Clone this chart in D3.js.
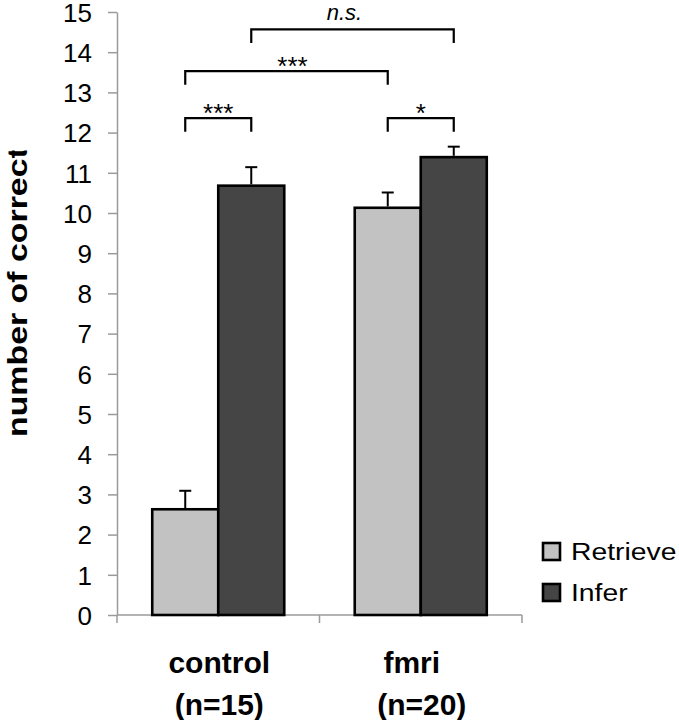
<!DOCTYPE html>
<html>
<head>
<meta charset="utf-8">
<script src="https://cdn.jsdelivr.net/npm/d3@7"></script>
<style>
  html, body { margin: 0; padding: 0; background: #fff; }
  svg { display: block; font-family: "Liberation Sans", Arial, sans-serif; }
</style>
</head>
<body>
<svg id="chart" width="679" height="720"></svg>
<script>
// ---- data ----
const categories = ["control", "fmri"];
const categorySizes = ["(n=15)", "(n=20)"];
const seriesNames = ["Retrieve", "Infer"];
const retrieveValues = [2.63, 10.13];
const inferValues = [10.68, 11.39];
const retrieveErrors = [0.46, 0.38];
const inferErrors = [0.46, 0.26];
const yTicks = [0,1,2,3,4,5,6,7,8,9,10,11,12,13,14,15];
const yLabel = "number of correct";
// significance comparisons: [category, series] pairs, label, bracket level (data units)
const comparisons = [
  { a: ["control", "Retrieve"], b: ["control", "Infer"], label: "***", level: 12.36, italic: false },
  { a: ["control", "Retrieve"], b: ["fmri", "Retrieve"], label: "***", level: 13.53, italic: false },
  { a: ["control", "Infer"],    b: ["fmri", "Infer"],    label: "n.s.", level: 14.57, italic: true },
  { a: ["fmri", "Retrieve"],    b: ["fmri", "Infer"],    label: "*",   level: 12.36, italic: false }
];

const colors = { Retrieve: "#c2c2c2", Infer: "#454545" };
const rows = categories.map((c, i) => ({
  category: c,
  values: [
    { series: "Retrieve", value: retrieveValues[i], err: retrieveErrors[i] },
    { series: "Infer", value: inferValues[i], err: inferErrors[i] }
  ]
}));

const svg = d3.select("#chart");
const axisColor = "#9a9a9a";

const y = d3.scaleLinear().domain([0, 15]).range([615, 12]);
const x0 = d3.scaleBand().domain(categories).range([117, 522]).paddingInner(0.348).paddingOuter(0.174);
const x1 = d3.scaleBand().domain(seriesNames).range([0, x0.bandwidth()]).padding(0);

// Y axis
const yAxis = svg.append("g").attr("transform", "translate(117,0)")
  .call(d3.axisLeft(y).tickValues(yTicks).tickSize(9).tickPadding(16).tickSizeOuter(0));
yAxis.select(".domain").attr("stroke", axisColor).attr("stroke-width", 1.5);
yAxis.selectAll(".tick line").attr("stroke", axisColor).attr("stroke-width", 1.5);
yAxis.selectAll(".tick text").attr("fill", "#000").style("font-size", "26px")
  .style("font-family", "'Liberation Sans', Arial, sans-serif").attr("dy", "0.36em");

// X axis line and category-boundary ticks
const xr = x0.range();
svg.append("line").attr("x1", xr[0]).attr("x2", xr[1]).attr("y1", y(0)).attr("y2", y(0))
  .attr("stroke", axisColor).attr("stroke-width", 1.5);
const boundaries = [xr[0]].concat(categories.map(c => x0(c) - x0.step() * x0.paddingInner() / 2 + x0.step()));
svg.selectAll(".xtick").data(boundaries).enter().append("line")
  .attr("x1", d => d).attr("x2", d => d).attr("y1", y(0)).attr("y2", y(0) + 8)
  .attr("stroke", axisColor).attr("stroke-width", 1.5);

// Bars
const groups = svg.selectAll(".grp").data(rows).enter().append("g")
  .attr("transform", d => `translate(${x0(d.category)},0)`);
groups.selectAll("rect").data(d => d.values).enter().append("rect")
  .attr("x", d => x1(d.series))
  .attr("y", d => y(d.value))
  .attr("width", x1.bandwidth())
  .attr("height", d => y(0) - y(d.value))
  .attr("fill", d => colors[d.series])
  .attr("stroke", "#000").attr("stroke-width", 2.6);

// Error bars (upward only)
const eb = groups.selectAll(".eb").data(d => d.values).enter().append("g");
eb.append("line")
  .attr("x1", d => x1(d.series) + x1.bandwidth() / 2)
  .attr("x2", d => x1(d.series) + x1.bandwidth() / 2)
  .attr("y1", d => y(d.value) - 1.3)
  .attr("y2", d => y(d.value + d.err))
  .attr("stroke", "#000").attr("stroke-width", 2);
eb.append("line")
  .attr("x1", d => x1(d.series) + x1.bandwidth() / 2 - 6)
  .attr("x2", d => x1(d.series) + x1.bandwidth() / 2 + 6)
  .attr("y1", d => y(d.value + d.err))
  .attr("y2", d => y(d.value + d.err))
  .attr("stroke", "#000").attr("stroke-width", 2);

// Significance brackets
const cx = (pair) => x0(pair[0]) + x1(pair[1]) + x1.bandwidth() / 2;
const legDrop = 0.34;
const br = svg.selectAll(".br").data(comparisons).enter().append("g");
br.append("path")
  .attr("d", d => {
    const xa = cx(d.a), xb = cx(d.b), yl = y(d.level), yd = y(d.level - legDrop);
    return `M${xa},${yd}V${yl}H${xb}V${yd}`;
  })
  .attr("fill", "none").attr("stroke", "#000").attr("stroke-width", 2.2);
br.append("text")
  .attr("x", (d, i) => (cx(d.a) + cx(d.b)) / 2 + (i === 1 ? 6 : (i === 2 ? -8 : 0)))
  .attr("y", d => d.italic ? y(d.level) - 9 : y(d.level) + 4)
  .attr("text-anchor", "middle")
  .style("font-size", d => d.italic ? "22px" : "26px")
  .style("font-style", d => d.italic ? "italic" : "normal")
  .attr("fill", "#000")
  .text(d => d.label);

// Category labels
const cat = svg.selectAll(".cat").data(categories).enter().append("g");
cat.append("text")
  .attr("x", (d, i) => x0(d) + x0.bandwidth() / 2 + (i === 1 ? -9 : 1))
  .attr("y", 673)
  .attr("text-anchor", "middle")
  .style("font-size", "30px").style("font-weight", "bold")
  .text(d => d);
cat.append("text")
  .attr("x", (d) => x0(d) + x0.bandwidth() / 2 + 1)
  .attr("y", 715)
  .attr("text-anchor", "middle")
  .style("font-size", "30px").style("font-weight", "bold")
  .text((d, i) => categorySizes[i]);

// Y label (clipped at top as in the reference)
svg.append("clipPath").attr("id", "ylabclip")
  .append("rect").attr("x", 0).attr("y", 150.5).attr("width", 60).attr("height", 320);
svg.append("g").attr("clip-path", "url(#ylabclip)")
  .append("text")
  .attr("transform", "translate(27,437) rotate(-90) scale(1.21,1)")
  .attr("text-anchor", "start")
  .style("font-size", "28px").style("font-weight", "bold")
  .text(yLabel);

// Legend
const legend = svg.selectAll(".lg").data(seriesNames).enter().append("g")
  .attr("transform", (d, i) => `translate(543,${543 + i * 41})`);
legend.append("rect").attr("width", 17).attr("height", 17)
  .attr("fill", d => colors[d]).attr("stroke", "#000").attr("stroke-width", 2.6);
legend.append("text")
  .attr("transform", "translate(28,17) scale(1.18,1)")
  .style("font-size", "24px")
  .text(d => d);
</script>
</body>
</html>
